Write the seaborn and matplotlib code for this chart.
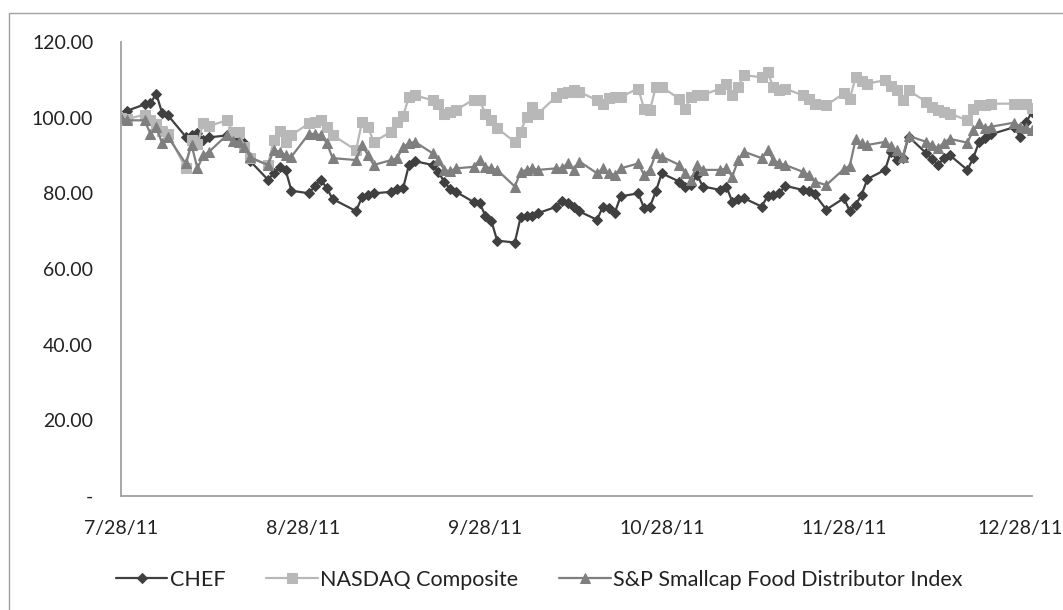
import numpy as np
import pandas as pd
import matplotlib
matplotlib.use("Agg")
import matplotlib.pyplot as plt
import seaborn as sns
from matplotlib.patches import Rectangle

# ---- data -------------------------------------------------------------
holidays = ["2011-09-05", "2011-11-24", "2011-12-26"]
dates = pd.bdate_range("2011-07-28", "2011-12-30")
dates = dates[~dates.isin(pd.to_datetime(holidays))]

chef = [100.0, 101.8,
        103.5, 103.8, 106.3, 101.2, 100.6,
        95.0, 95.5, 96.0, 94.2, 94.8,
        95.3, 94.5, 93.8, 93.3, 88.5,
        83.6, 85.3, 87.0, 86.2, 80.7,
        80.0, 82.0, 83.6, 81.4, 78.5,
        75.3, 79.0, 79.6, 80.0,
        80.4, 81.2, 81.4, 87.5, 88.5,
        87.5, 85.7, 83.0, 81.2, 80.4,
        77.7, 77.5, 74.1, 72.8, 67.5,
        67.0, 73.7, 73.9, 74.1, 74.8,
        76.4, 78.1, 77.5, 76.5, 75.2,
        73.0, 76.5, 76.1, 74.8, 79.2,
        80.0, 76.1, 76.5, 80.5, 85.3,
        83.1, 81.6, 82.2, 84.9, 81.8,
        80.9, 81.8, 77.8, 78.5, 78.7,
        76.5, 79.2, 79.6, 80.0, 82.0,
        80.9, 80.5, 79.8, 75.7,
        78.7, 75.3, 77.0, 79.6, 83.8,
        86.2, 91.0, 88.8, 89.3, 95.0,
        90.6, 89.0, 87.5, 89.3, 90.1,
        86.2, 89.3, 93.6, 94.5, 95.6,
        97.5, 94.9, 98.8, 101.5]

nasdaq = [100.0, 99.6,
          100.8, 99.5, 98.4, 96.6, 95.8,
          86.6, 94.0, 93.0, 98.5, 97.8,
          99.3, 96.3, 96.3, 92.3, 89.3,
          87.5, 94.1, 96.6, 93.6, 95.4,
          98.5, 98.9, 99.3, 97.6, 95.4,
          91.4, 98.9, 97.6, 93.6,
          96.3, 98.9, 100.5, 105.5, 105.9,
          104.6, 103.7, 101.1, 101.5, 102.0,
          104.8, 104.6, 101.1, 99.5, 97.2,
          93.6, 96.3, 100.2, 102.8, 101.1,
          105.5, 106.4, 106.8, 107.2, 106.8,
          104.6, 103.7, 105.3, 105.5, 105.5,
          107.7, 102.4, 102.1, 108.1, 108.1,
          105.0, 102.4, 105.5, 105.9, 106.0,
          107.7, 109.0, 105.9, 108.1, 111.2,
          110.7, 112.0, 108.1, 107.2, 107.7,
          105.9, 105.0, 103.7, 103.3,
          106.4, 105.0, 110.7, 109.8, 109.0,
          109.9, 108.5, 107.2, 104.6, 107.2,
          104.2, 102.8, 102.0, 101.5, 101.1,
          99.3, 102.4, 103.3, 103.3, 103.7,
          103.7, 103.5, 103.7, 102.6]

snp = [100.0, 99.3,
       99.3, 95.8, 97.6, 93.2, 94.9,
       87.9, 92.8, 86.6, 90.1, 91.0,
       95.4, 93.8, 93.6, 92.3, 89.5,
       87.5, 91.4, 91.0, 90.1, 89.7,
       95.8, 95.6, 95.4, 93.4, 89.3,
       88.8, 92.8, 90.1, 87.5,
       88.8, 89.3, 92.3, 93.2, 93.6,
       90.6, 88.8, 86.2, 85.8, 86.6,
       87.0, 88.8, 87.0, 86.6, 86.2,
       81.8, 85.7, 86.2, 86.6, 86.2,
       86.6, 86.6, 87.9, 86.2, 88.4,
       85.3, 86.6, 85.3, 84.9, 86.6,
       87.9, 84.9, 86.2, 90.6, 89.7,
       87.5, 85.3, 83.6, 87.5, 86.2,
       86.2, 86.6, 84.4, 88.8, 91.0,
       89.3, 91.4, 88.8, 87.9, 87.5,
       85.7, 84.9, 83.1, 82.2,
       86.4, 87.3, 94.3, 93.2, 92.8,
       93.6, 92.5, 91.4, 89.7, 95.2,
       93.6, 92.8, 91.9, 93.4, 94.4,
       93.4, 96.7, 98.5, 97.2, 97.6,
       98.7, 97.6, 97.2, 96.8]

series_names = ["CHEF", "NASDAQ Composite", "S&P Smallcap Food Distributor Index"]
tick_dates = ["2011-07-28", "2011-08-28", "2011-09-28", "2011-10-28", "2011-11-28", "2011-12-28"]
tick_labels = ["7/28/11", "8/28/11", "9/28/11", "10/28/11", "11/28/11", "12/28/11"]
y_ticks = [0, 20, 40, 60, 80, 100, 120]
y_labels = ["-", "20.00", "40.00", "60.00", "80.00", "100.00", "120.00"]

# ---- plot -------------------------------------------------------------
sns.set_theme(style="white")
plt.rcParams['font.family'] = ['Lato', 'DejaVu Sans']

W, H = 1063, 610
fig = plt.figure(figsize=(W / 100, H / 100), dpi=100)
fig.patch.set_facecolor("white")
fig.patches.append(Rectangle((9 / W, -0.2), 1.5, (H - 13) / H + 0.2,
                             transform=fig.transFigure, fill=False,
                             edgecolor="#a0a0a0", linewidth=1.0))

ax = fig.add_axes([121 / W, (H - 496) / H, (1032 - 121) / W, (496 - 42) / H])

styles = [
    dict(color="#404040", marker="D", markersize=5.0),
    dict(color="#b8b8b8", marker="s", markersize=6.5),
    dict(color="#7f7f7f", marker="^", markersize=7.0),
]
for name, vals, st in zip(series_names, [chef, nasdaq, snp], styles):
    sns.lineplot(x=dates, y=vals, ax=ax, label=name, color=st["color"],
                 marker=st["marker"], markersize=st["markersize"],
                 markeredgecolor=st["color"], markerfacecolor=st["color"],
                 linewidth=1.6)

ax.set_xlim(dates[0], dates[-1])
ax.set_ylim(0, 120)
ax.set_xticks(pd.to_datetime(tick_dates))
ax.set_xticklabels(tick_labels)
ax.set_yticks(y_ticks)
ax.set_yticklabels(y_labels)
ax.set_xlabel("")
ax.set_ylabel("")
ax.tick_params(axis="both", length=0, labelsize=14, colors="#222222")
ax.tick_params(axis="y", pad=20)
ax.tick_params(axis="x", pad=17)
for s in ["top", "right"]:
    ax.spines[s].set_visible(False)
for s in ["left", "bottom"]:
    ax.spines[s].set_color("#a0a0a0")
    ax.spines[s].set_linewidth(1.3)
ax.grid(False)

ax.legend_.remove()
handles, labels = ax.get_legend_handles_labels()
fig.legend(handles, labels, loc="center", bbox_to_anchor=(539 / W, (H - 580) / H),
           ncol=3, frameon=False, fontsize=15.5, handlelength=2.4,
           columnspacing=1.9, handletextpad=0.1, numpoints=1,
           labelcolor="#222222")

fig.savefig("out.png", dpi=100, facecolor="white")
